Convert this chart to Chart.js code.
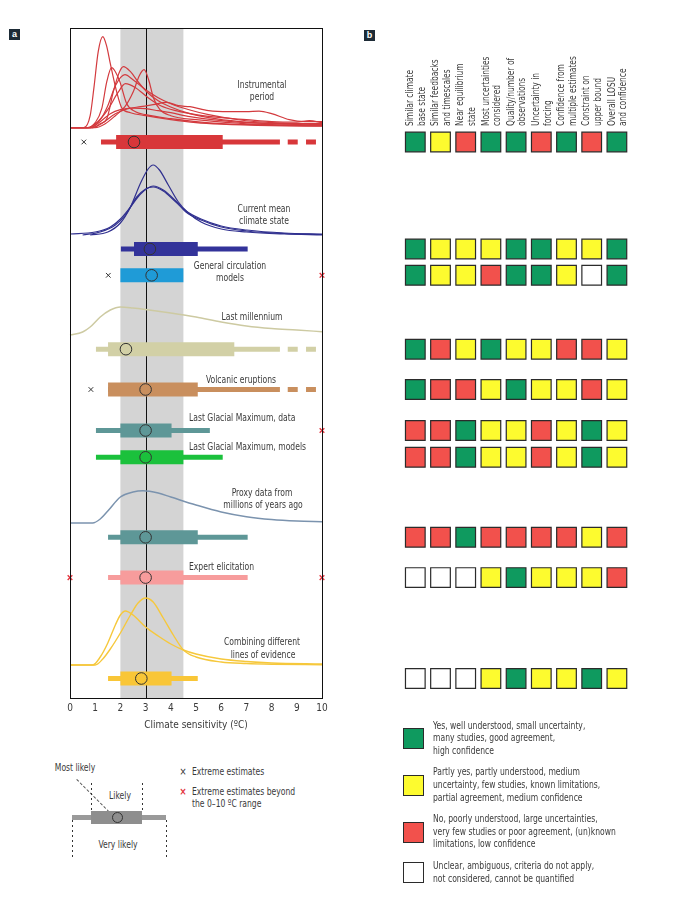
<!DOCTYPE html>
<html><head><meta charset="utf-8">
<script src="https://cdn.jsdelivr.net/npm/chart.js@4"></script>
<style>
body{margin:0;background:#fff;width:674px;height:903px;position:relative;overflow:hidden;font-family:"Liberation Sans Narrow","DejaVu Sans Condensed","Arial Narrow","Liberation Sans",Arial,sans-serif;color:#3a3a3a;}
canvas{position:absolute;}
.t{position:absolute;font-size:10px;line-height:12px;white-space:nowrap;}
.c{transform:translate(-50%,-50%) scaleX(0.85);}
.l{transform:translateY(-50%) scaleX(0.85);transform-origin:0 50%;}
.pl{position:absolute;width:11px;height:11px;background:#1d2b36;color:#fff;font:bold 9px "Liberation Sans",Arial,sans-serif;text-align:center;line-height:11px;}
.sq{position:absolute;width:19px;height:19px;border:1.2px solid #2b2b2b;}
.vd{position:absolute;width:1px;background:repeating-linear-gradient(to bottom,#333 0 2px,transparent 2px 5px);}
.rot{position:absolute;font-size:9.8px;line-height:11px;white-space:nowrap;transform-origin:0 0;transform:rotate(-90deg) scaleX(0.85);}
</style></head><body>
<div class="pl" style="left:9px;top:29px">a</div>
<div class="pl" style="left:364px;top:30px">b</div>
<canvas id="ca" width="340" height="740" style="left:0;top:0"></canvas>
<canvas id="cb" width="334" height="740" style="left:340px;top:0"></canvas>
<script>
// ================= DATA =================
const xTicks = [0,1,2,3,4,5,6,7,8,9,10];
const lineNames = ["Instrumental period","Current mean climate state","General circulation models","Last millennium","Volcanic eruptions","Last Glacial Maximum, data","Last Glacial Maximum, models","Proxy data from millions of years ago","Expert elicitation","Combining different lines of evidence"];
const mostLikely       = [2.54, 3.17, 3.24, 2.22, 3.0, 3.0, 3.0, 3.0, 3.0, 2.83];
const likelyLow        = [1.83, 2.54, 2.0, 1.51, 1.51, 2.0, 2.0, 2.0, 2.0, 2.0];
const likelyHigh       = [6.06, 5.07, 4.5, 6.52, 5.07, 4.03, 4.5, 5.07, 4.5, 4.03];
const veryLikelyLow    = [1.23, 2.02, null, 1.03, 1.51, 1.03, 1.03, 1.51, 1.51, 1.51];
const veryLikelyHigh   = [8.33, 7.05, null, 8.33, 8.33, 5.55, 6.06, 7.05, 7.05, 5.07];
const uncertainTailLow = [8.64, null, null, 8.64, 8.64, null, null, null, null, null];
const uncertainTailHigh= [9.76, null, null, 9.76, 9.76, null, null, null, null, null];
const extremeEstimates = [0.55, null, 1.52, null, 0.83, null, null, null, null, null];
const beyondRange      = [[], [], [10], [], [], [10], [], [], [0, 10], []];

// probability density curves: [x, relative height]
const instrumentalPdfs = [
 [[0,0],[0.55,0],[0.8,12],[0.95,40],[1.12,76],[1.3,91],[1.45,82],[1.6,64],[1.85,36],[2.05,20],[2.4,15],[3,12],[4,8],[5,5],[6,3.5],[8,2],[10,1.5]],
 [[0,0],[0.7,0],[1.0,5],[1.26,19],[1.46,46],[1.65,60],[1.8,56],[1.98,46],[2.25,24],[2.6,16],[3,13],[4,9],[5,6],[6,4],[8,2.5],[10,2]],
 [[0,0],[0.9,0],[1.2,4],[1.46,9],[1.72,36],[1.95,55],[2.12,61],[2.4,56],[2.7,46],[3.04,36],[3.5,27],[3.97,21],[4.76,14],[5.5,10],[6.75,6],[8,4],[10,2.5]],
 [[0,0],[0.8,0],[1.2,8],[1.5,22],[1.8,42],[2.18,53],[2.5,48],[3,38],[3.5,30],[4,24],[4.76,17.7],[5.5,13],[6.75,7.7],[8,5],[10,3]],
 [[0,0],[1.0,0],[1.4,4],[1.8,12],[2.18,21],[2.51,36],[2.75,52],[2.94,58],[3.12,48],[3.31,30],[3.57,18],[4,12],[5,8],[6.75,4.4],[8,3],[10,2]],
 [[0,0],[0.8,0],[1.2,6],[1.6,14],[2.0,18],[2.5,19.5],[3,19],[3.5,17],[4,15],[4.76,11],[6,7],[7,5],[8.5,4],[10,4]],
 [[0,0],[0.9,0],[1.3,5],[1.8,14],[2.3,19],[2.8,21],[3.3,23],[3.84,25.4],[4.3,22],[4.76,21],[5.5,17],[6.3,16],[7,16],[7.5,16.5],[8,14],[8.7,8],[9.3,6],[10,6]],
 [[0,0],[0.7,0],[1.1,6],[1.5,18],[1.9,35],[2.2,44],[2.6,40],[3.1,30],[3.6,22],[4.2,17],[5,13],[6,10],[7,8],[8,6],[9,5.5],[9.5,7],[10,5]]
];
const currentStatePdfs = [
 [[0.8,0],[1.5,3],[2.0,12],[2.4,28],[2.8,52],[3.1,66],[3.3,70],[3.55,65],[3.9,50],[4.3,33],[4.7,22],[5.2,13],[6,6],[7,3],[8.5,1],[10,0]],
 [[0,1],[1,3],[1.6,8],[2.0,16],[2.4,28],[2.8,41],[3.3,49],[3.7,45],[4.2,34],[4.6,23],[5.2,15],[6,8],[7,4],[8.5,1.5],[10,0.5]],
 [[0.5,0],[1.2,3],[1.8,10],[2.2,20],[2.65,38],[3.0,46],[3.3,48],[3.7,44],[4.2,33],[4.6,24],[5.2,16],[6,9],[7,5],[8.5,2],[10,1]]
];
const millenniumPdf = [[0,0],[0.5,3],[0.8,8],[1.2,18],[1.6,25],[2.0,28],[2.5,27],[3,25.5],[4,22],[5,18],[6,13],[7,9],[8,6.5],[9,5],[10,3.3]];
const proxyPdf = [[0,0],[0.9,0],[1.2,4],[1.5,12],[2,26],[2.5,31],[2.9,32.3],[3.5,30],[4,26],[5,18],[6,11],[7,6.3],[8,3.5],[9,2],[10,1.3]];
const combinedPdfs = [
 [[0,0],[0.9,0],[1.2,8],[1.5,22],[1.8,40],[2.0,50],[2.2,54],[2.5,50],[3,38],[3.5,29],[4.0,21],[4.5,15],[5,11],[6,6],[7,3.5],[8,2],[10,1]],
 [[0,0],[1.0,0],[1.3,6],[1.6,16],[2.0,32],[2.4,50],[2.7,62],[3.0,67],[3.3,63],[3.7,47],[4.1,30],[4.5,15],[5,8],[6,3],[7,1.5],[8,0.8],[10,0.3]]
];

const criteria = [["Similar climate","base state"],["Similar feedbacks","and timescales"],["Near equilibrium","state"],["Most uncertainties","considered"],["Quality/number of","observations"],["Uncertainty in","forcing"],["Confidence from","multiple estimates"],["Constraint on","upper bound"],["Overall LOSU","and confidence"]];
// G = yes/high, Y = partly/medium, R = no/low, W = unclear
const assessment = [
 ["G","Y","R","G","G","R","G","R","G"],
 ["G","Y","Y","Y","G","G","Y","Y","G"],
 ["G","Y","Y","R","G","G","Y","W","G"],
 ["G","R","Y","G","Y","Y","R","R","Y"],
 ["G","R","R","Y","G","Y","Y","R","Y"],
 ["R","R","G","Y","Y","R","Y","G","Y"],
 ["R","R","G","Y","Y","R","Y","G","Y"],
 ["R","R","G","R","R","R","R","Y","R"],
 ["W","W","W","Y","G","Y","Y","Y","R"],
 ["W","W","W","Y","G","Y","Y","G","Y"]
];
const levelText = {
 G:["Yes, well understood, small uncertainty,","many studies, good agreement,","high confidence"],
 Y:["Partly yes, partly understood, medium","uncertainty, few studies, known limitations,","partial agreement, medium confidence"],
 R:["No, poorly understood, large uncertainties,","very few studies or poor agreement, (un)known","limitations, low confidence"],
 W:["Unclear, ambiguous, criteria do not apply,","not considered, cannot be quantified"]
};

// ================= LAYOUT / STYLE =================
const rowY = [142, 249, 275.3, 349.2, 389.5, 430.5, 457.3, 537.3, 577.6, 678.5];
const base = {instr:127.7, current:235, mill:335, proxy:523, comb:665};
const barColors = ['#d8373a','#33339a','#1f9bd7','#d2d0a6','#c98f5e','#5e9797','#1bc13c','#5e9797','#f79c9c','#f9c637'];
const levelColors = {G:'#0f9a5f', Y:'#fdfb2f', R:'#f2514c', W:'#ffffff'};
const FONT = '"Liberation Sans Narrow","DejaVu Sans Condensed","Arial Narrow","Liberation Sans",Arial,sans-serif';
Chart.defaults.font.family = FONT;
Chart.defaults.color = '#3a3a3a';

function pdfSet(curve, b, color, w){
  return {type:'line', data: curve.map(p=>({x:p[0], y:b - p[1]})), borderColor:color, borderWidth:w||1.2,
    pointRadius:0, cubicInterpolationMode:'monotone', fill:false, order:5, clip:false};
}
function seg(lo, hi, y, color, w, dash, order){
  return {type:'line', data:[{x:lo,y:y},{x:hi,y:y}], borderColor:color, borderWidth:w, borderCapStyle:'butt',
    borderDash:dash||[], pointRadius:0, tension:0, fill:false, order:order};
}
const dsA = [];
instrumentalPdfs.forEach(c=>dsA.push(pdfSet(c, base.instr, '#d33a3e')));
currentStatePdfs.forEach(c=>dsA.push(pdfSet(c, base.current, '#30308f')));
dsA.push(pdfSet(millenniumPdf, base.mill, '#cdcaa2', 1.5));
dsA.push(pdfSet(proxyPdf, base.proxy, '#7b93ae', 1.5));
combinedPdfs.forEach(c=>dsA.push(pdfSet(c, base.comb, '#f6c83c', 1.4)));
for (let i=0;i<lineNames.length;i++){
  if (veryLikelyLow[i]!==null) dsA.push(seg(veryLikelyLow[i], veryLikelyHigh[i], rowY[i], barColors[i], 5, [], 3));
  if (uncertainTailLow[i]!==null) dsA.push(seg(uncertainTailLow[i], uncertainTailHigh[i], rowY[i], barColors[i], 5, [10,8.3], 3));
  dsA.push(seg(likelyLow[i], likelyHigh[i], rowY[i], barColors[i], 14, [], 2));
}
dsA.push({type:'line', showLine:false, data: mostLikely.map((v,i)=>({x:v,y:rowY[i]})), pointStyle:'circle', pointRadius:5.8,
  pointBackgroundColor:'rgba(0,0,0,0)', pointBorderColor:'#333', pointBorderWidth:1, order:0, clip:false});
dsA.push({type:'line', showLine:false, data: extremeEstimates.map((v,i)=>v===null?null:({x:v,y:rowY[i]})).filter(Boolean),
  pointStyle:'crossRot', pointRadius:3.3, pointBorderColor:'#333', pointBorderWidth:1, order:1, clip:false});
const redX=[]; beyondRange.forEach((arr,i)=>arr.forEach(v=>redX.push({x:v,y:rowY[i]})));
dsA.push({type:'line', showLine:false, data:redX, pointStyle:'crossRot', pointRadius:3.3, pointBorderColor:'#e3303a', pointBorderWidth:1.3, order:1, clip:false});

const bandPlugin = {id:'band', beforeDatasetsDraw(ch){
  const {ctx, chartArea:a, scales:{x}} = ch;
  ctx.save();
  ctx.fillStyle = '#d4d4d4';
  const x1=x.getPixelForValue(2), x2=x.getPixelForValue(4.5);
  ctx.fillRect(x1, a.top, x2-x1, a.bottom-a.top);
  ctx.strokeStyle='#111'; ctx.lineWidth=1;
  const x3=Math.round(x.getPixelForValue(3))+0.5;
  ctx.beginPath(); ctx.moveTo(x3,a.top); ctx.lineTo(x3,a.bottom); ctx.stroke();
  ctx.restore();
}, afterDatasetsDraw(ch){
  const {ctx, chartArea:a} = ch;
  ctx.save(); ctx.strokeStyle='#111'; ctx.lineWidth=1;
  ctx.strokeRect(Math.round(a.left)+0.5, Math.round(a.top)+0.5, Math.round(a.right-a.left), Math.round(a.bottom-a.top));
  ctx.restore();
}};

new Chart(document.getElementById('ca'), {
  type:'line',
  data:{datasets:dsA},
  options:{responsive:false, animation:false, events:[],
    layout:{padding:{left:70, right:18, top:28, bottom:0}},
    plugins:{legend:{display:false}, tooltip:{enabled:false}},
    scales:{
      x:{type:'linear', min:0, max:10, afterFit:s=>{s.height=42;},
        afterBuildTicks:s=>{s.ticks = xTicks.map(v=>({value:v}));},
        grid:{display:false, drawTicks:false}, border:{display:false},
        ticks:{padding:4, font:{size:10}, color:'#3a3a3a', maxRotation:0, autoSkip:false},
        title:{display:true, text:'Climate sensitivity (ºC)', font:{size:10}, color:'#3a3a3a', padding:{top:0,bottom:9}}},
      y:{type:'linear', min:28, max:698, reverse:true, display:false}
    }
  },
  plugins:[bandPlugin]
});

// ----- panel b -----
const gridPts=[], gridCols=[];
assessment.forEach((row,r)=>row.forEach((lv,c)=>{gridPts.push({x:c,y:rowY[r]}); gridCols.push(levelColors[lv]);}));
new Chart(document.getElementById('cb'), {
  type:'scatter',
  data:{datasets:[{data:gridPts, pointStyle:'rect', pointRadius:13.9, pointBackgroundColor:gridCols,
    pointBorderColor:'#2b2b2b', pointBorderWidth:1.2, clip:false}]},
  options:{responsive:false, animation:false, events:[],
    layout:{padding:{left:62.7, right:44.5, top:28, bottom:42}},
    plugins:{legend:{display:false}, tooltip:{enabled:false}},
    scales:{x:{type:'linear', min:-0.5, max:8.5, display:false}, y:{type:'linear', min:28, max:698, reverse:true, display:false}}
  }
});

// ----- text -----
function txt(s, x, y, cls, extra){
  const d=document.createElement('div'); d.className='t '+cls; d.textContent=s;
  d.style.left=x+'px'; d.style.top=y+'px'; if(extra) d.style.cssText+=extra; document.body.appendChild(d); return d;
}
const annot = [
 ["Instrumental",262,85,'c'],["period",262,97,'c'],
 ["Current mean",264,209,'c'],["climate state",264,221,'c'],
 ["General circulation",230,266,'c'],["models",230,278,'c'],
 ["Last millennium",252,317,'c'],
 ["Volcanic eruptions",241,380,'c'],
 ["Last Glacial Maximum, data",189,418,'l'],
 ["Last Glacial Maximum, models",189,447,'l'],
 ["Proxy data from",262,493,'c'],["millions of years ago",263,505,'c'],
 ["Expert elicitation",189,567,'l'],
 ["Combining different",262,642,'c'],["lines of evidence",263,655,'c']
];
annot.forEach(a=>txt(a[0],a[1],a[2],a[3]));

// column headers (rotated)
criteria.forEach((lines,c)=>{
  const cx = 415.3 + 25.2*c;
  lines.forEach((ln,k)=>{
    const d=document.createElement('div'); d.className='rot'; d.textContent=ln;
    const lx = cx - 5.8 + 11.6*k;
    d.style.left=(lx-5.5)+'px'; d.style.top='126px'; document.body.appendChild(d);
  });
});

// panel b legend
const legY = {G:738.3, Y:785, R:831.7, W:872.3};
['G','Y','R','W'].forEach(k=>{
  const s=document.createElement('div'); s.className='sq'; s.style.background=levelColors[k];
  s.style.left='403px'; s.style.top=(legY[k]-10.2)+'px'; document.body.appendChild(s);
  const L=levelText[k]; const y0 = legY[k] - (L.length-1)*12.7/2;
  L.forEach((ln,i)=>txt(ln,433.3,y0+i*12.7,'l'));
});

// panel a key
txt("Most likely",75,768,'c');
txt("Likely",120,796,'c');
txt("Very likely",118,845,'c');
const diag=document.createElement('div');
diag.style.cssText='position:absolute;left:77px;top:779px;width:46px;height:0;border-top:1px dashed #555;transform-origin:0 0;transform:rotate(45deg);';
document.body.appendChild(diag);
const thin=document.createElement('div'); thin.style.cssText='position:absolute;left:72px;top:815px;width:94px;height:5px;background:#9a9a9a;'; document.body.appendChild(thin);
const box=document.createElement('div'); box.style.cssText='position:absolute;left:91px;top:811px;width:51px;height:13px;background:#8e8e8e;'; document.body.appendChild(box);
const circ=document.createElement('div'); circ.style.cssText='position:absolute;left:111.5px;top:812px;width:11px;height:11px;box-sizing:border-box;border:1px solid #333;border-radius:50%;'; document.body.appendChild(circ);
[[91,783,28],[142,783,28],[72,820,38],[166,820,38]].forEach(v=>{
  const d=document.createElement('div'); d.className='vd'; d.style.left=v[0]+'px'; d.style.top=v[1]+'px'; d.style.height=v[2]+'px'; document.body.appendChild(d);
});
txt("×",183,772,'c','font-size:11px;color:#333;');
txt("Extreme estimates",192,772,'l');
txt("×",183,792,'c','font-size:11px;color:#e3303a;font-weight:bold;');
txt("Extreme estimates beyond",192,792,'l');
txt("the 0–10 ºC range",192,804,'l');
</script>
</body></html>
